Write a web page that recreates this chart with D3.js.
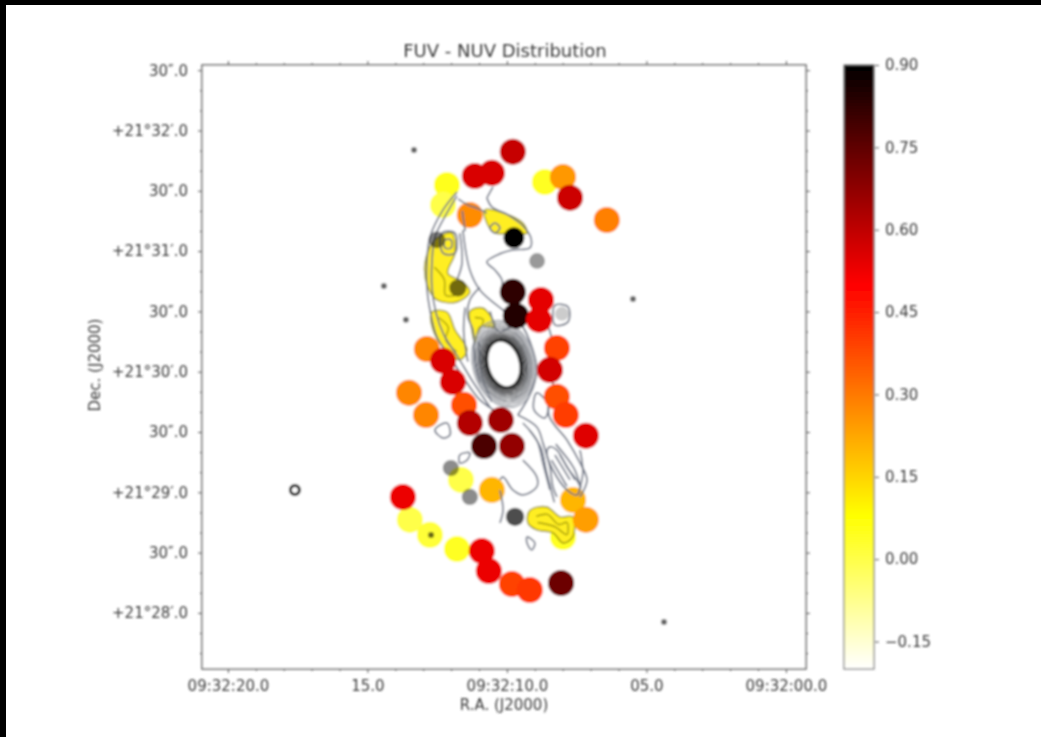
<!DOCTYPE html>
<html>
<head>
<meta charset="utf-8">
<script src="https://cdn.jsdelivr.net/npm/d3@7"></script>
<style>
html, body { margin: 0; padding: 0; background: #fff; overflow: hidden; }
text { font-family: "DejaVu Sans", sans-serif; fill: #3a3a3a; }
.axis path, .axis line { stroke: #555; }
</style>
</head>
<body>
<script>
// aperture photometry, R.A. seconds past 09:32, Dec. arcsec past +21:28, FUV-NUV colour
var apRa  = [9.79, 11.15, 10.54, 8.64, 7.99, 7.74, 6.42, 9.79, 9.68, 8.78, 8.85, 8.21, 12.87, 12.29, 11.94, 8.46, 13.51, 12.90, 11.54, 8.21, 7.89, 11.33, 10.22, 7.17, 10.82, 9.82, 13.73, 7.17, 10.90, 10.65, 9.82, 9.18, 8.06];
var apDec = [229.4, 217.4, 218.9, 214.4, 216.9, 206.5, 195.5, 159.7, 147.8, 155.7, 145.8, 131.8, 131.3, 125.4, 114.9, 120.9, 109.5, 98.5, 103.5, 107.5, 98.5, 94.5, 96, 88.1, 83.1, 83.1, 57.7, 46.3, 30.8, 20.9, 14.4, 11.4, 14.9];
var apVal = [0.59, 0.56, 0.56, 0.04, 0.25, 0.58, 0.29, 0.83, 0.85, 0.54, 0.54, 0.39, 0.28, 0.56, 0.56, 0.57, 0.28, 0.28, 0.37, 0.37, 0.40, 0.62, 0.65, 0.55, 0.78, 0.67, 0.53, 0.24, 0.53, 0.53, 0.39, 0.41, 0.73];

// apertures that sit under the contours
var diskRa  = [12.15, 12.29, 11.33, 10.54, 7.63, 11.65, 7.99, 13.48, 12.76, 11.79];
var diskDec = [212.9, 203, 198, 61.2, 56.2, 66.2, 37.8, 46.3, 38.8, 31.8];
var diskVal = [0.05, 0.0, 0.27, 0.2, 0.2, 0.0, 0.04, 0.0, 0.02, 0.04];
var apertureRadius = 6.5; // arcsec

// faint point sources
var starRa  = [13.33, 14.41, 13.62, 5.48, 4.37, 8.57, 12.72];
var starDec = [230.3, 162.7, 145.8, 156.2, -4.5, 210.9, 38.8];

// bright knots in the disk
var knotRa   = [8.92, 12.01, 11.33, 11.76, 9.71, 12.51, 9.75, 8.03];
var knotDec  = [175.1, 72.1, 57.7, 161.7, 47.8, 185.6, 186.6, 148.8];
var knotFlux = [0.4, 0.45, 0.45, 0.55, 0.7, 0.5, 1, 0.2];

// detached ring source
var ringRa = [17.60], ringDec = [61.2];

// nucleus contour levels, semi axes in arcsec
var nucleusRa = 10.11, nucleusDec = 123.9, nucleusTilt = -15;
var nucleusMajor = [22, 20.8, 19.6, 18.5, 17.5, 16.5, 15.6, 14.8, 14, 13.3, 12.6, 12];
var nucleusMinor = [15.5, 14.6, 13.7, 13, 12.2, 11.5, 10.9, 10.3, 9.7, 9.2, 8.7, 8.2];

// yellow low-colour regions [ra, dec]
var yellowRegions = [
  [[12.58,185.6],[11.97,189],[11.86,179],[12.12,169],[11.58,164.7],[11.33,159.7],[11.79,154.7],[12.51,155.7],[12.83,162],[12.94,174]],
  [[12.69,149.7],[12.15,149.7],[11.86,140.8],[11.43,130.8],[11.69,125.9],[12.29,132.3],[12.65,140.8]],
  [[11.33,150],[10.86,151.7],[10.43,142.3],[10.97,142.3],[11.15,134.3],[11.26,140.8]],
  [[10.79,200.5],[10.14,199],[9.43,194],[9.28,189],[9.89,189],[10.43,189],[10.72,194]],
  [[9.18,51],[8.57,52.7],[8.10,47.8],[7.64,47.8],[7.64,37.8],[7.99,34.8],[8.35,39.8],[8.93,41.3],[9.25,44.8]]
];
// olive contours inside the yellow regions
var yellowLines = [
  [[12.6,172],[12.25,166],[12.2,158],[11.85,158]],
  [[12.45,147],[12.1,142],[12.2,136],[11.8,130]],
  [[11.15,147],[10.85,146],[11.05,139]],
  [[8.95,48],[8.55,49],[8.15,44],[7.85,45],[7.85,39],[8.3,43],[8.9,45]]
];

// gray flux contours [ra, dec]
var openContours = [
  [[11.79,209.4],[12.29,200.5],[12.76,187],[12.87,174],[12.87,162],[12.76,150.7],[12.51,137.3],[12.04,127.4],[11.51,116],[10.97,106],[10.36,100]],
  [[11.79,207.5],[12.15,199],[12.58,187],[12.69,174],[12.69,162],[12.55,149.7],[12.26,138.3],[11.76,127.4],[11.22,115],[10.61,102.5]],
  [[10.72,206.5],[10.54,202],[9.96,198],[9.46,193],[9.14,186.6],[9.18,181.6],[9.79,180.6],[10.36,178],[10.72,174.6],[10.43,170.6],[10.18,165.7],[10.18,160.7]],
  [[10.72,206.5],[10.5,212]],
  [[11.75,206],[11.4,203],[11.0,201],[10.72,199]],
  [[11.6,200],[11.5,190]],
  [[11.58,190.5],[11.33,170.6],[10.97,160.7],[10.14,150.7],[9.53,144.3],[9.07,130.8],[8.93,119.9],[9.18,108.5],[9.61,98.5]],
  [[10.97,162],[11.33,155.7],[11.40,147.3],[11.22,140.8],[11.15,125.9],[10.97,114.4]],
  [[11.5,152],[11.55,140],[11.4,125]],
  [[10.6,150],[10.3,140],[9.9,142]],
  [[11.0,135],[10.9,118],[10.55,105]],
  [[11.69,189],[11.61,174],[11.79,165.7]],
  [[8.71,150.7],[8.35,133.3],[8.35,113.4],[8.50,98.5],[7.85,86],[7.38,74.6],[7.13,66.2],[7.38,57.7]],
  [[9.61,98.5],[8.93,92.5],[8.71,84.6],[8.46,72.6],[8.35,62.7],[8.21,57.7]],
  [[9.43,94.5],[8.93,86],[8.71,74.6],[8.46,61.2]],
  [[9.2,91],[8.78,82],[8.58,70],[8.3,55]],
  [[8.28,78.6],[7.74,66.2]],
  [[8.10,78.6],[7.56,66.2]],
  [[8.4,76],[7.85,63]],
  [[8.25,84],[7.6,72],[7.35,62]],
  [[7.38,81],[7.28,69.7],[7.45,58.7]],
  [[9.43,76],[8.93,67.7],[8.93,62.7],[9.43,58.7],[9.79,61.2],[10.14,67.7],[10.25,66.2]],
  [[10.25,61],[10.14,51.2],[10.25,44.8]]
];
var closedContours = [
  [[12.33,189],[11.86,189],[11.86,179],[12.29,179]],
  [[12.22,185.6],[12.0,185.6],[12.0,181.6],[12.22,181.6]],
  [[10.61,191.5],[10.43,194],[10.25,191.5],[10.43,189]],
  [[8.28,153],[7.81,152.2],[7.81,144.8],[8.28,143.3]],
  [[8.93,109.5],[9.03,101],[8.64,97],[8.53,103.5]],
  [[8.57,79.6],[8.46,82.6],[8.21,81],[7.85,72.6],[7.38,62.7],[7.49,58.7],[7.85,61.2],[8.35,71.1]],
  [[12.58,91],[12.29,87],[12.04,88.6],[12.15,94.5]],
  [[11.69,78.6],[11.33,79.6],[11.43,76],[11.69,74.6]],
  [[9.28,37.8],[9.0,34.8],[9.11,31.3],[9.28,34.8]]
];

// tick values and labels
var xTicks = [20, 15, 10, 5, 0];
var xLabels = ["09:32:20.0", "15.0", "09:32:10.0", "05.0", "09:32:00.0"];
var xMinor = [20, 19, 18, 17, 16, 14, 13, 12, 11, 9, 8, 7, 6, 4, 3, 2, 1];
var yTicks = [270, 240, 210, 180, 150, 120, 90, 60, 30, 0];
var yLabels = ["30\u2033.0", "+21\u00b032\u2032.0", "30\u2033.0", "+21\u00b031\u2032.0", "30\u2033.0", "+21\u00b030\u2032.0", "30\u2033.0", "+21\u00b029\u2032.0", "30\u2033.0", "+21\u00b028\u2032.0"];
var yMinor = [260, 250, 230, 220, 200, 190, 170, 160, 140, 130, 110, 100, 80, 70, 50, 40, 20, 10, -10, -20];
var cbTicks = [0.9, 0.75, 0.6, 0.45, 0.3, 0.15, 0, -0.15];

// colormap stops, reversed hot
var cmapValues = [-0.2, 0.08, 0.5, 0.9];
var cmapColors = ["#ffffff", "#ffff00", "#ff0000", "#000000"];

var svg = d3.select("body").append("svg")
  .attr("width", 1041)
  .attr("height", 737)
  .style("display", "block");

// soft focus of the scanned figure
var defs = svg.append("defs");
defs.append("filter").attr("id", "soft")
  .attr("filterUnits", "userSpaceOnUse")
  .attr("x", 0).attr("y", 0).attr("width", 1041).attr("height", 737)
  .append("feGaussianBlur").attr("stdDeviation", 1.25);

var color = d3.scaleLinear().domain(cmapValues).range(cmapColors).clamp(true);

var x = d3.scaleLinear().domain([20.93, -0.72]).range([202, 806]);
var y = d3.scaleLinear().domain([-27.9, 272.6]).range([669, 65]);
var cbY = d3.scaleLinear().domain([-0.2, 0.9]).range([669, 65]);
var knotGray = d3.scaleLinear().domain([0, 1]).range(["#ffffff", "#000000"]);
var knotSize = d3.scaleLinear().domain([0.2, 1]).range([7, 10.5]);
var nucleusGray = d3.scaleLinear().domain([0, nucleusMajor.length - 1]).range(["#8f939c", "#222222"]);

var line = d3.line().x(function(d) { return x(d[0]); }).y(function(d) { return y(d[1]); });
var pxPerArcsec = Math.abs(y(1) - y(0));

var g = svg.append("g").attr("filter", "url(#soft)");

g.append("rect").attr("x", 202).attr("y", 65).attr("width", 604).attr("height", 604).attr("fill", "#fff");

function drawApertures(ra, dec, val) {
  g.append("g").selectAll("circle").data(val).enter().append("circle")
    .attr("cx", function(d, i) { return x(ra[i]); })
    .attr("cy", function(d, i) { return y(dec[i]); })
    .attr("r", apertureRadius * pxPerArcsec)
    .attr("fill", function(d) { return color(d); });
}

drawApertures(diskRa, diskDec, diskVal);

// yellow regions of the disk
g.selectAll(".region").data(yellowRegions).enter().append("path")
  .attr("class", "region")
  .attr("d", function(d) { return line.curve(d3.curveCatmullRomClosed)(d); })
  .attr("fill", "#ffee20")
  .attr("stroke", "#9a9410")
  .attr("stroke-width", 1.4);

g.selectAll(".regionline").data(yellowLines).enter().append("path")
  .attr("class", "regionline")
  .attr("d", function(d) { return line.curve(d3.curveCatmullRom)(d); })
  .attr("fill", "none")
  .attr("stroke", "#a39a10")
  .attr("stroke-width", 1.4);

// flux contours
g.selectAll(".contour").data(openContours).enter().append("path")
  .attr("class", "contour")
  .attr("d", function(d) { return line.curve(d3.curveCatmullRom)(d); })
  .attr("fill", "none")
  .attr("stroke", "#6e7484")
  .attr("stroke-width", 1.7);

g.selectAll(".loop").data(closedContours).enter().append("path")
  .attr("class", "loop")
  .attr("d", function(d) { return line.curve(d3.curveCatmullRomClosed)(d); })
  .attr("fill", "none")
  .attr("stroke", "#6e7484")
  .attr("stroke-width", 1.7);

// nucleus
g.selectAll(".nuc").data(nucleusMajor).enter().append("ellipse")
  .attr("class", "nuc")
  .attr("transform", "translate(" + x(nucleusRa) + "," + y(nucleusDec) + ") rotate(" + nucleusTilt + ")")
  .attr("rx", function(d, i) { return nucleusMinor[i] * pxPerArcsec; })
  .attr("ry", function(d) { return d * pxPerArcsec; })
  .attr("fill", function(d, i) { return i == nucleusMajor.length - 1 ? "#fff" : "none"; })
  .attr("stroke", function(d, i) { return nucleusGray(i); })
  .attr("stroke-width", function(d, i) { return i == nucleusMajor.length - 1 ? 3 : 1.2; });

// knots and faint sources darken what is under them
var sources = g.append("g").style("mix-blend-mode", "multiply");
sources.selectAll(".knot").data(knotFlux).enter().append("circle")
  .attr("class", "knot")
  .attr("cx", function(d, i) { return x(knotRa[i]); })
  .attr("cy", function(d, i) { return y(knotDec[i]); })
  .attr("r", function(d) { return knotSize(d); })
  .attr("fill", function(d) { return knotGray(d); });
sources.selectAll(".star").data(starRa).enter().append("circle")
  .attr("class", "star")
  .attr("cx", function(d) { return x(d); })
  .attr("cy", function(d, i) { return y(starDec[i]); })
  .attr("r", 3)
  .attr("fill", "#666");

g.selectAll(".ring").data(ringRa).enter().append("circle")
  .attr("class", "ring")
  .attr("cx", function(d) { return x(d); })
  .attr("cy", function(d, i) { return y(ringDec[i]); })
  .attr("r", 4.5)
  .attr("fill", "#fff")
  .attr("stroke", "#000")
  .attr("stroke-width", 3);

drawApertures(apRa, apDec, apVal);

// frame
g.append("rect").attr("x", 202).attr("y", 65).attr("width", 604).attr("height", 604)
  .attr("fill", "none").attr("stroke", "#555").attr("stroke-width", 1.4);

function noLabels() { return ""; }

// major and minor ticks on all four sides
function addAxis(axis, tx, ty) {
  var a = g.append("g").attr("class", "axis").attr("transform", "translate(" + tx + "," + ty + ")").call(axis);
  a.select(".domain").remove();
  a.selectAll("text").style("font-size", "15px");
  return a;
}
addAxis(d3.axisBottom(x).tickValues(xTicks).tickSize(4).tickPadding(7).tickFormat(function(d, i) { return xLabels[i]; }), 0, 669);
addAxis(d3.axisBottom(x).tickValues(xMinor).tickSize(2).tickFormat(noLabels), 0, 669);
addAxis(d3.axisTop(x).tickValues(xTicks).tickSize(4).tickFormat(noLabels), 0, 65);
addAxis(d3.axisTop(x).tickValues(xMinor).tickSize(2).tickFormat(noLabels), 0, 65);
addAxis(d3.axisLeft(y).tickValues(yTicks).tickSize(4).tickPadding(10).tickFormat(function(d, i) { return yLabels[i]; }), 202, 0);
addAxis(d3.axisLeft(y).tickValues(yMinor).tickSize(2).tickFormat(noLabels), 202, 0);
addAxis(d3.axisRight(y).tickValues(yTicks).tickSize(4).tickFormat(noLabels), 806, 0);
addAxis(d3.axisRight(y).tickValues(yMinor).tickSize(2).tickFormat(noLabels), 806, 0);

// title and axis labels
g.append("text").attr("x", 505).attr("y", 57).style("text-anchor", "middle").style("font-size", "18px").text("FUV - NUV Distribution");
g.append("text").attr("x", 504).attr("y", 710).style("text-anchor", "middle").style("font-size", "15px").text("R.A. (J2000)");
g.append("text").attr("transform", "translate(100,365) rotate(-90)").style("text-anchor", "middle").style("font-size", "15px").text("Dec. (J2000)");

// colorbar
var grad = defs.append("linearGradient").attr("id", "cmap")
  .attr("x1", 0).attr("y1", 1).attr("x2", 0).attr("y2", 0);
grad.selectAll("stop").data(cmapValues).enter().append("stop")
  .attr("offset", function(d) { return (d - cmapValues[0]) / (cmapValues[3] - cmapValues[0]); })
  .attr("stop-color", function(d, i) { return cmapColors[i]; });

g.append("rect").attr("x", 844).attr("y", cbY(0.9)).attr("width", 30).attr("height", cbY(-0.2) - cbY(0.9))
  .attr("fill", "url(#cmap)").attr("stroke", "#777").attr("stroke-width", 1.2);
addAxis(d3.axisRight(cbY).tickValues(cbTicks).tickSize(4).tickPadding(6).tickFormat(d3.format(".2f")), 875, 0);
g.selectAll(".axis text").filter(function() { return this.textContent.indexOf("-") == 0; })
  .text("\u22120.15");

// black strip along top and left of the scan
svg.append("rect").attr("x", 0).attr("y", 0).attr("width", 1041).attr("height", 5).attr("fill", "#000");
svg.append("rect").attr("x", 0).attr("y", 0).attr("width", 6).attr("height", 737).attr("fill", "#000");
</script>
</body>
</html>
